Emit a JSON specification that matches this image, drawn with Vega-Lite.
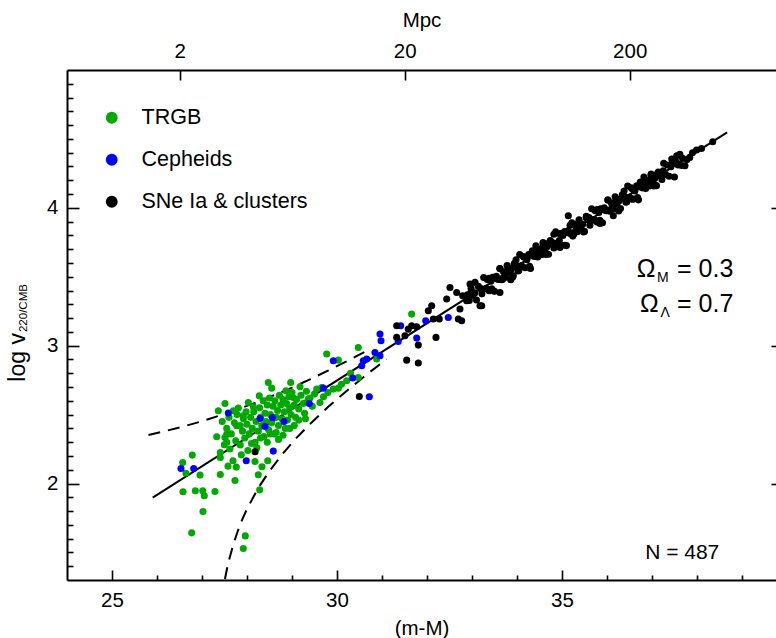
{
"$schema":"https://vega.github.io/schema/vega-lite/v6.json",
"width":709,"height":510,
"autosize":{"type":"none"},
"padding":{"left":67,"top":70,"right":0,"bottom":58},
"config":{"font":"Liberation Sans","view":{"stroke":null},
 "axis":{"grid":false,"domainColor":"black","tickColor":"black","labelColor":"black","titleColor":"black","labelFontSize":20.5,"titleFontSize":20.5,"titleFontWeight":"normal","domainWidth":2,"tickWidth":1.6,"labelFont":"Liberation Sans","titleFont":"Liberation Sans"},
 "text":{"font":"Liberation Sans","color":"black"}},
"datasets":{
"one":[{"k":1}],
"fit":[{"m":25.905,"v":1.898},{"m":38.67,"v":4.547}],
"up":[{"m":25.81,"v":2.352},{"m":26.2,"v":2.382},{"m":26.6,"v":2.415},{"m":27.0,"v":2.452},{"m":27.4,"v":2.494},{"m":27.8,"v":2.539},{"m":28.2,"v":2.588},{"m":28.6,"v":2.640},{"m":29.0,"v":2.696},{"m":29.4,"v":2.756},{"m":29.8,"v":2.819},{"m":30.2,"v":2.884},{"m":30.5,"v":2.935},{"m":30.75,"v":2.978}],
"lo":[{"m":27.51,"v":1.307},{"m":27.55,"v":1.373},{"m":27.6,"v":1.444},{"m":27.7,"v":1.563},{"m":27.8,"v":1.659},{"m":27.9,"v":1.743},{"m":28.0,"v":1.815},{"m":28.25,"v":1.967},{"m":28.5,"v":2.091},{"m":28.8,"v":2.219},{"m":29.1,"v":2.331},{"m":29.4,"v":2.432},{"m":29.8,"v":2.555},{"m":30.2,"v":2.668},{"m":30.6,"v":2.775},{"m":31.1,"v":2.902}],
"pts":[
{"m":26.571,"v":2.152,"g":"T"},{"m":26.784,"v":2.206,"g":"T"},{"m":26.644,"v":2.075,"g":"T"},{"m":26.956,"v":2.061,"g":"T"},{"m":26.578,"v":1.94,"g":"T"},{"m":26.851,"v":1.947,"g":"T"},{"m":27.016,"v":1.947,"g":"T"},{"m":27.051,"v":1.911,"g":"T"},{"m":27.289,"v":1.942,"g":"T"},{"m":27.022,"v":1.797,"g":"T"},{"m":26.771,"v":1.642,"g":"T"},{"m":27.407,"v":2.065,"g":"T"},{"m":27.407,"v":2.189,"g":"T"},{"m":27.407,"v":2.225,"g":"T"},{"m":27.578,"v":2.126,"g":"T"},{"m":27.689,"v":2.165,"g":"T"},{"m":27.762,"v":2.119,"g":"T"},{"m":27.733,"v":2.022,"g":"T"},{"m":27.873,"v":2.208,"g":"T"},{"m":27.496,"v":2.281,"g":"T"},{"m":27.962,"v":1.62,"g":"T"},{"m":27.918,"v":1.528,"g":"T"},{"m":28.178,"v":2.16,"g":"T"},{"m":28.333,"v":2.121,"g":"T"},{"m":28.251,"v":2.063,"g":"T"},{"m":28.282,"v":1.954,"g":"T"},{"m":28.46,"v":2.165,"g":"T"},
{"m":28.473,"v":2.733,"g":"T"},{"m":28.549,"v":2.692,"g":"T"},{"m":28.971,"v":2.733,"g":"T"},{"m":29.178,"v":2.702,"g":"T"},{"m":28.867,"v":2.673,"g":"T"},{"m":28.273,"v":2.636,"g":"T"},{"m":28.029,"v":2.588,"g":"T"},{"m":28.14,"v":2.557,"g":"T"},{"m":27.511,"v":2.581,"g":"T"},{"m":27.362,"v":2.528,"g":"T"},{"m":27.807,"v":2.547,"g":"T"},{"m":27.696,"v":2.528,"g":"T"},{"m":27.918,"v":2.491,"g":"T"},{"m":27.771,"v":2.419,"g":"T"},{"m":27.549,"v":2.358,"g":"T"},{"m":27.327,"v":2.339,"g":"T"},{"m":27.511,"v":2.334,"g":"T"},
{"m":31.659,"v":3.229,"g":"T"},{"m":30.473,"v":2.987,"g":"T"},{"m":29.771,"v":2.939,"g":"T"},{"m":30.029,"v":2.895,"g":"T"},{"m":30.882,"v":2.903,"g":"T"},{"m":30.473,"v":2.769,"g":"T"},{"m":30.215,"v":2.745,"g":"T"},{"m":29.549,"v":2.685,"g":"T"},{"m":29.918,"v":2.685,"g":"T"},{"m":30.029,"v":2.692,"g":"T"},{"m":29.66,"v":2.697,"g":"T"},{"m":29.622,"v":2.588,"g":"T"},{"m":29.362,"v":2.612,"g":"T"},{"m":29.029,"v":2.624,"g":"T"},
{"m":27.45,"v":2.45,"g":"T"},{"m":27.55,"v":2.40,"g":"T"},{"m":27.6,"v":2.48,"g":"T"},{"m":27.65,"v":2.36,"g":"T"},{"m":27.72,"v":2.44,"g":"T"},{"m":27.78,"v":2.50,"g":"T"},{"m":27.85,"v":2.42,"g":"T"},{"m":27.9,"v":2.38,"g":"T"},{"m":27.92,"v":2.47,"g":"T"},{"m":27.98,"v":2.52,"g":"T"},{"m":28.0,"v":2.43,"g":"T"},{"m":28.05,"v":2.36,"g":"T"},{"m":28.08,"v":2.48,"g":"T"},{"m":28.12,"v":2.40,"g":"T"},{"m":28.15,"v":2.52,"g":"T"},{"m":28.18,"v":2.30,"g":"T"},{"m":28.2,"v":2.45,"g":"T"},{"m":28.25,"v":2.38,"g":"T"},{"m":28.28,"v":2.55,"g":"T"},{"m":28.3,"v":2.48,"g":"T"},{"m":28.33,"v":2.42,"g":"T"},{"m":28.36,"v":2.60,"g":"T"},{"m":28.38,"v":2.34,"g":"T"},{"m":28.4,"v":2.51,"g":"T"},{"m":28.42,"v":2.45,"g":"T"},{"m":28.45,"v":2.57,"g":"T"},{"m":28.48,"v":2.39,"g":"T"},{"m":28.5,"v":2.62,"g":"T"},{"m":28.52,"v":2.50,"g":"T"},{"m":28.55,"v":2.44,"g":"T"},{"m":28.58,"v":2.56,"g":"T"},{"m":28.6,"v":2.36,"g":"T"},{"m":28.62,"v":2.60,"g":"T"},{"m":28.65,"v":2.48,"g":"T"},{"m":28.68,"v":2.53,"g":"T"},{"m":28.7,"v":2.42,"g":"T"},{"m":28.72,"v":2.64,"g":"T"},{"m":28.75,"v":2.57,"g":"T"},{"m":28.78,"v":2.47,"g":"T"},{"m":28.8,"v":2.61,"g":"T"},{"m":28.83,"v":2.52,"g":"T"},{"m":28.85,"v":2.40,"g":"T"},{"m":28.88,"v":2.58,"g":"T"},{"m":28.9,"v":2.46,"g":"T"},{"m":28.93,"v":2.63,"g":"T"},{"m":28.95,"v":2.55,"g":"T"},{"m":28.98,"v":2.50,"g":"T"},{"m":29.0,"v":2.66,"g":"T"},{"m":29.05,"v":2.57,"g":"T"},{"m":29.08,"v":2.48,"g":"T"},{"m":29.1,"v":2.61,"g":"T"},{"m":29.15,"v":2.54,"g":"T"},{"m":29.2,"v":2.64,"g":"T"},{"m":29.25,"v":2.58,"g":"T"},{"m":29.28,"v":2.51,"g":"T"},{"m":29.32,"v":2.67,"g":"T"},{"m":29.4,"v":2.62,"g":"T"},{"m":29.45,"v":2.56,"g":"T"},{"m":29.5,"v":2.65,"g":"T"},{"m":29.7,"v":2.63,"g":"T"},{"m":29.8,"v":2.66,"g":"T"},{"m":30.1,"v":2.72,"g":"T"},{"m":30.3,"v":2.80,"g":"T"},
{"m":27.55,"v":2.30,"g":"T"},{"m":27.62,"v":2.25,"g":"T"},{"m":27.75,"v":2.31,"g":"T"},{"m":27.85,"v":2.28,"g":"T"},{"m":27.95,"v":2.33,"g":"T"},{"m":28.02,"v":2.24,"g":"T"},{"m":28.1,"v":2.29,"g":"T"},{"m":28.22,"v":2.26,"g":"T"},{"m":28.3,"v":2.33,"g":"T"},{"m":28.45,"v":2.30,"g":"T"},{"m":28.52,"v":2.36,"g":"T"},{"m":28.65,"v":2.37,"g":"T"},{"m":28.7,"v":2.32,"g":"T"},{"m":28.8,"v":2.35,"g":"T"},{"m":28.95,"v":2.40,"g":"T"},{"m":29.05,"v":2.42,"g":"T"},{"m":29.15,"v":2.46,"g":"T"},{"m":29.3,"v":2.47,"g":"T"},
{"m":26.533,"v":2.109,"g":"C"},{"m":26.816,"v":2.109,"g":"C"},{"m":27.984,"v":2.165,"g":"C"},{"m":28.584,"v":2.235,"g":"C"},{"m":27.585,"v":2.511,"g":"C"},{"m":28.289,"v":2.472,"g":"C"},{"m":28.562,"v":2.479,"g":"C"},{"m":28.822,"v":2.45,"g":"C"},{"m":28.4,"v":2.414,"g":"C"},{"m":29.384,"v":2.581,"g":"C"},{"m":29.918,"v":2.89,"g":"C"},{"m":29.696,"v":2.692,"g":"C"},{"m":30.349,"v":2.765,"g":"C"},{"m":30.549,"v":2.854,"g":"C"},{"m":30.584,"v":2.89,"g":"C"},{"m":30.66,"v":2.903,"g":"C"},{"m":30.844,"v":2.951,"g":"C"},{"m":30.956,"v":2.927,"g":"C"},{"m":30.956,"v":3.084,"g":"C"},{"m":30.978,"v":3.036,"g":"C"},{"m":31.362,"v":3.031,"g":"C"},{"m":31.416,"v":3.144,"g":"C"},{"m":31.771,"v":3.055,"g":"C"},{"m":31.971,"v":3.181,"g":"C"},{"m":32.473,"v":3.205,"g":"C"},{"m":30.718,"v":2.629,"g":"C"},
{"m":28.18,"v":2.23,"g":"S"},{"m":30.496,"v":2.631,"g":"S"},{"m":31.549,"v":2.895,"g":"S"},{"m":31.807,"v":2.874,"g":"S"},{"m":31.807,"v":3.004,"g":"S"},{"m":32.2,"v":3.06,"g":"S"},{"m":31.327,"v":3.144,"g":"S"},{"m":31.584,"v":3.12,"g":"S"},{"m":31.66,"v":3.144,"g":"S"},{"m":31.77,"v":3.137,"g":"S"},{"m":31.327,"v":3.06,"g":"S"},{"m":31.511,"v":3.072,"g":"S"},{"m":32.029,"v":3.253,"g":"S"},{"m":32.104,"v":3.29,"g":"S"},{"m":32.141,"v":3.193,"g":"S"},{"m":32.273,"v":3.193,"g":"S"},{"m":32.438,"v":3.338,"g":"S"},{"m":32.511,"v":3.422,"g":"S"},{"m":32.66,"v":3.386,"g":"S"},{"m":32.733,"v":3.266,"g":"S"},{"m":32.696,"v":3.193,"g":"S"},{"m":32.771,"v":3.181,"g":"S"},{"m":32.793,"v":3.362,"g":"S"},{"m":32.882,"v":3.326,"g":"S"},{"m":32.956,"v":3.447,"g":"S"},{"m":33.067,"v":3.459,"g":"S"},{"m":32.98,"v":3.39,"g":"S"},{"m":33.178,"v":3.29,"g":"S"},{"m":33.216,"v":3.29,"g":"S"},{"m":33.622,"v":3.386,"g":"S"},{"m":33.918,"v":3.507,"g":"S"},{"m":34.956,"v":3.713,"g":"S"},{"m":35.844,"v":3.887,"g":"S"},{"m":36.14,"v":3.943,"g":"S"},{"m":36.549,"v":4.064,"g":"S"},{"m":35.14,"v":3.943,"g":"S"},
{"m":32.9,"v":3.370,"g":"S"},{"m":32.94,"v":3.328,"g":"S"},{"m":32.98,"v":3.416,"g":"S"},{"m":33.02,"v":3.365,"g":"S"},{"m":33.06,"v":3.383,"g":"S"},{"m":33.1,"v":3.331,"g":"S"},{"m":33.14,"v":3.430,"g":"S"},{"m":33.18,"v":3.418,"g":"S"},{"m":33.22,"v":3.376,"g":"S"},{"m":33.26,"v":3.495,"g":"S"},{"m":33.3,"v":3.413,"g":"S"},{"m":33.34,"v":3.481,"g":"S"},{"m":33.38,"v":3.399,"g":"S"},{"m":33.42,"v":3.468,"g":"S"},{"m":33.46,"v":3.496,"g":"S"},{"m":33.5,"v":3.394,"g":"S"},{"m":33.54,"v":3.503,"g":"S"},{"m":33.58,"v":3.481,"g":"S"},{"m":33.62,"v":3.559,"g":"S"},{"m":33.66,"v":3.478,"g":"S"},{"m":33.7,"v":3.536,"g":"S"},{"m":33.74,"v":3.494,"g":"S"},{"m":33.78,"v":3.582,"g":"S"},{"m":33.82,"v":3.531,"g":"S"},{"m":33.86,"v":3.549,"g":"S"},{"m":33.9,"v":3.497,"g":"S"},{"m":33.94,"v":3.596,"g":"S"},{"m":33.98,"v":3.584,"g":"S"},{"m":34.02,"v":3.542,"g":"S"},{"m":34.06,"v":3.661,"g":"S"},{"m":34.1,"v":3.579,"g":"S"},{"m":34.14,"v":3.647,"g":"S"},{"m":34.18,"v":3.565,"g":"S"},{"m":34.22,"v":3.634,"g":"S"},{"m":34.26,"v":3.662,"g":"S"},{"m":34.3,"v":3.560,"g":"S"},{"m":34.34,"v":3.669,"g":"S"},{"m":34.38,"v":3.647,"g":"S"},{"m":34.42,"v":3.725,"g":"S"},{"m":34.46,"v":3.644,"g":"S"},{"m":34.5,"v":3.702,"g":"S"},{"m":34.54,"v":3.660,"g":"S"},{"m":34.58,"v":3.748,"g":"S"},{"m":34.62,"v":3.697,"g":"S"},{"m":34.66,"v":3.715,"g":"S"},{"m":34.7,"v":3.663,"g":"S"},{"m":34.74,"v":3.762,"g":"S"},{"m":34.78,"v":3.750,"g":"S"},{"m":34.82,"v":3.708,"g":"S"},{"m":34.86,"v":3.827,"g":"S"},{"m":34.9,"v":3.745,"g":"S"},{"m":34.94,"v":3.813,"g":"S"},{"m":34.98,"v":3.731,"g":"S"},{"m":35.02,"v":3.800,"g":"S"},{"m":35.06,"v":3.828,"g":"S"},{"m":35.1,"v":3.726,"g":"S"},{"m":35.14,"v":3.835,"g":"S"},{"m":35.18,"v":3.813,"g":"S"},{"m":35.22,"v":3.891,"g":"S"},{"m":35.26,"v":3.809,"g":"S"},{"m":35.3,"v":3.868,"g":"S"},{"m":35.34,"v":3.826,"g":"S"},{"m":35.38,"v":3.914,"g":"S"},{"m":35.42,"v":3.863,"g":"S"},{"m":35.46,"v":3.881,"g":"S"},{"m":35.5,"v":3.829,"g":"S"},{"m":35.54,"v":3.928,"g":"S"},{"m":35.58,"v":3.916,"g":"S"},{"m":35.62,"v":3.874,"g":"S"},{"m":35.66,"v":3.993,"g":"S"},{"m":35.7,"v":3.911,"g":"S"},{"m":35.74,"v":3.979,"g":"S"},{"m":35.78,"v":3.897,"g":"S"},{"m":35.82,"v":3.966,"g":"S"},{"m":35.86,"v":3.994,"g":"S"},{"m":35.9,"v":3.892,"g":"S"},{"m":35.94,"v":4.001,"g":"S"},{"m":35.98,"v":3.979,"g":"S"},{"m":36.02,"v":4.057,"g":"S"},{"m":36.06,"v":3.975,"g":"S"},{"m":36.1,"v":4.034,"g":"S"},{"m":36.14,"v":3.992,"g":"S"},{"m":36.18,"v":4.080,"g":"S"},{"m":36.22,"v":4.029,"g":"S"},{"m":36.26,"v":4.047,"g":"S"},{"m":36.3,"v":3.995,"g":"S"},{"m":36.34,"v":4.094,"g":"S"},{"m":36.38,"v":4.082,"g":"S"},{"m":36.42,"v":4.040,"g":"S"},{"m":36.46,"v":4.158,"g":"S"},{"m":36.5,"v":4.077,"g":"S"},{"m":36.54,"v":4.145,"g":"S"},{"m":36.58,"v":4.063,"g":"S"},{"m":36.62,"v":4.132,"g":"S"},{"m":36.66,"v":4.160,"g":"S"},{"m":36.7,"v":4.058,"g":"S"},{"m":36.74,"v":4.167,"g":"S"},{"m":36.78,"v":4.145,"g":"S"},{"m":36.82,"v":4.223,"g":"S"},{"m":36.86,"v":4.141,"g":"S"},{"m":36.9,"v":4.200,"g":"S"},{"m":36.94,"v":4.158,"g":"S"},{"m":36.98,"v":4.246,"g":"S"},{"m":37.02,"v":4.195,"g":"S"},{"m":37.06,"v":4.213,"g":"S"},{"m":37.1,"v":4.161,"g":"S"},{"m":37.14,"v":4.260,"g":"S"},{"m":37.18,"v":4.248,"g":"S"},{"m":37.22,"v":4.206,"g":"S"},{"m":37.26,"v":4.324,"g":"S"},{"m":37.3,"v":4.243,"g":"S"},{"m":37.34,"v":4.311,"g":"S"},{"m":37.38,"v":4.229,"g":"S"},{"m":37.42,"v":4.298,"g":"S"},{"m":37.46,"v":4.326,"g":"S"},{"m":37.5,"v":4.224,"g":"S"},{"m":37.54,"v":4.333,"g":"S"},{"m":37.58,"v":4.311,"g":"S"},{"m":37.62,"v":4.389,"g":"S"},{"m":37.66,"v":4.307,"g":"S"},
{"m":33.32,"v":3.417,"g":"S"},{"m":33.38,"v":3.489,"g":"S"},{"m":33.44,"v":3.412,"g":"S"},{"m":33.5,"v":3.494,"g":"S"},{"m":33.56,"v":3.487,"g":"S"},{"m":33.62,"v":3.559,"g":"S"},{"m":33.68,"v":3.482,"g":"S"},{"m":33.74,"v":3.514,"g":"S"},{"m":33.8,"v":3.567,"g":"S"},{"m":33.86,"v":3.479,"g":"S"},{"m":33.92,"v":3.571,"g":"S"},{"m":33.98,"v":3.624,"g":"S"},{"m":34.04,"v":3.546,"g":"S"},{"m":34.1,"v":3.579,"g":"S"},{"m":34.16,"v":3.641,"g":"S"},{"m":34.22,"v":3.624,"g":"S"},{"m":34.28,"v":3.576,"g":"S"},{"m":34.34,"v":3.689,"g":"S"},{"m":34.4,"v":3.681,"g":"S"},{"m":34.46,"v":3.664,"g":"S"},{"m":34.52,"v":3.666,"g":"S"},{"m":34.58,"v":3.738,"g":"S"},{"m":34.64,"v":3.661,"g":"S"},{"m":34.7,"v":3.743,"g":"S"},{"m":34.76,"v":3.736,"g":"S"},{"m":34.82,"v":3.808,"g":"S"},{"m":34.88,"v":3.731,"g":"S"},{"m":34.94,"v":3.763,"g":"S"},{"m":35.0,"v":3.816,"g":"S"},{"m":35.06,"v":3.728,"g":"S"},{"m":35.12,"v":3.821,"g":"S"},{"m":35.18,"v":3.873,"g":"S"},{"m":35.24,"v":3.795,"g":"S"},{"m":35.3,"v":3.828,"g":"S"},{"m":35.36,"v":3.890,"g":"S"},{"m":35.42,"v":3.873,"g":"S"},{"m":35.48,"v":3.825,"g":"S"},{"m":35.54,"v":3.938,"g":"S"},{"m":35.6,"v":3.930,"g":"S"},{"m":35.66,"v":3.913,"g":"S"},{"m":35.72,"v":3.915,"g":"S"},{"m":35.78,"v":3.987,"g":"S"},{"m":35.84,"v":3.910,"g":"S"},{"m":35.9,"v":3.992,"g":"S"},{"m":35.96,"v":3.985,"g":"S"},{"m":36.02,"v":4.057,"g":"S"},{"m":36.08,"v":3.980,"g":"S"},{"m":36.14,"v":4.012,"g":"S"},{"m":36.2,"v":4.065,"g":"S"},{"m":36.26,"v":3.977,"g":"S"},{"m":36.32,"v":4.069,"g":"S"},{"m":36.38,"v":4.122,"g":"S"},{"m":36.44,"v":4.044,"g":"S"},{"m":36.5,"v":4.077,"g":"S"},{"m":36.56,"v":4.139,"g":"S"},{"m":36.62,"v":4.122,"g":"S"},{"m":36.68,"v":4.074,"g":"S"},{"m":36.74,"v":4.187,"g":"S"},{"m":36.8,"v":4.179,"g":"S"},{"m":36.86,"v":4.161,"g":"S"},{"m":36.92,"v":4.164,"g":"S"},{"m":36.98,"v":4.236,"g":"S"},{"m":37.04,"v":4.159,"g":"S"},{"m":37.1,"v":4.241,"g":"S"},{"m":37.16,"v":4.234,"g":"S"},
{"m":37.733,"v":4.305,"g":"S"},{"m":37.84,"v":4.366,"g":"S"},{"m":37.99,"v":4.419,"g":"S"},{"m":38.35,"v":4.479,"g":"S"},{"m":37.55,"v":4.378,"g":"S"},{"m":37.44,"v":4.354,"g":"S"},{"m":37.9,"v":4.40,"g":"S"},{"m":37.78,"v":4.35,"g":"S"},{"m":38.1,"v":4.43,"g":"S"},{"m":37.68,"v":4.36,"g":"S"},{"m":37.25,"v":4.269,"g":"S"},{"m":37.07,"v":4.233,"g":"S"}
]},
"layer":[
{"data":{"name":"fit"},"mark":{"type":"line","color":"black","strokeWidth":2},
 "encoding":{
  "x":{"field":"m","type":"quantitative","scale":{"domain":[24,39.756],"nice":false,"zero":false},
   "axis":{"orient":"bottom","values":[25,26,27,28,29,30,31,32,33,34,35,36,37,38,39],"labelExpr":"datum.value % 5 == 0 ? datum.label : ''","tickSize":{"condition":{"test":"datum.value % 5 == 0","value":-10},"value":-5},"labelPadding":20,"title":"(m-M)","titlePadding":8}},
  "y":{"field":"v","type":"quantitative","scale":{"domain":[1.3,5.0],"nice":false,"zero":false},
   "axis":{"orient":"left","values":[1.4,1.5,1.6,1.7,1.8,1.9,2,2.1,2.2,2.3,2.4,2.5,2.6,2.7,2.8,2.9,3,3.1,3.2,3.3,3.4,3.5,3.6,3.7,3.8,3.9,4,4.1,4.2,4.3,4.4,4.5,4.6,4.7,4.8,4.9],"labelExpr":"datum.value % 1 == 0 ? format(datum.value,'d') : ''","tickSize":{"condition":{"test":"datum.value % 1 == 0","value":-12},"value":-6},"labelPadding":21,"title":null}}}},
{"data":{"name":"up"},"mark":{"type":"line","color":"black","strokeWidth":2,"strokeDash":[12,8]},
 "encoding":{"x":{"field":"m","type":"quantitative","axis":null},"y":{"field":"v","type":"quantitative","axis":null}}},
{"data":{"name":"lo"},"mark":{"type":"line","color":"black","strokeWidth":2,"strokeDash":[12,8]},
 "encoding":{"x":{"field":"m","type":"quantitative","axis":null},"y":{"field":"v","type":"quantitative","axis":null}}},
{"data":{"name":"pts"},"mark":{"type":"circle","size":50,"opacity":1},
 "encoding":{
  "x":{"field":"m","type":"quantitative",
   "axis":{"orient":"top","values":[26.5051,31.5051,36.5051],"labelExpr":"format(round(pow(10, datum.value/5+1)/1000000),'d')","tickSize":-10,"labelPadding":19,"title":"Mpc","titlePadding":11}},
  "y":{"field":"v","type":"quantitative",
   "axis":{"orient":"right","values":[2,3,4],"labels":false,"domain":false,"tickSize":-5,"title":null}},
  "color":{"field":"g","type":"nominal","scale":{"domain":["T","C","S"],"range":["#00a800","#0000ff","#000000"]},
   "legend":{"orient":"none","legendX":34,"legendY":37,"title":null,"labelExpr":"datum.value == 'T' ? 'TRGB' : datum.value == 'C' ? 'Cepheids' : 'SNe Ia & clusters'","symbolType":"circle","symbolSize":140,"symbolStrokeWidth":0,"labelFontSize":21.5,"labelFont":"Liberation Sans","labelColor":"black","labelLimit":400,"rowPadding":19,"labelOffset":19,"padding":0}}}},
{"data":{"name":"one"},"mark":{"type":"text","text":"log v","fontSize":23,"angle":270,"align":"left","baseline":"alphabetic"},
 "encoding":{"x":{"datum":23.056,"type":"quantitative","axis":null},"y":{"datum":2.739,"type":"quantitative","axis":null}}},
{"data":{"name":"one"},"mark":{"type":"text","text":"220/CMB","fontSize":11.5,"angle":270,"align":"left","baseline":"alphabetic"},
 "encoding":{"x":{"datum":23.1,"type":"quantitative","axis":null},"y":{"datum":3.099,"type":"quantitative","axis":null}}},
{"data":{"name":"one"},"mark":{"type":"text","text":"Ω","fontSize":25,"align":"left","baseline":"alphabetic"},
 "encoding":{"x":{"datum":36.66,"type":"quantitative","axis":null},"y":{"datum":3.498,"type":"quantitative","axis":null}}},
{"data":{"name":"one"},"mark":{"type":"text","text":"M","fontSize":14,"align":"left","baseline":"alphabetic"},
 "encoding":{"x":{"datum":37.111,"type":"quantitative","axis":null},"y":{"datum":3.462,"type":"quantitative","axis":null}}},
{"data":{"name":"one"},"mark":{"type":"text","text":"= 0.3","fontSize":25,"align":"right","baseline":"alphabetic"},
 "encoding":{"x":{"datum":38.807,"type":"quantitative","axis":null},"y":{"datum":3.498,"type":"quantitative","axis":null}}},
{"data":{"name":"one"},"mark":{"type":"text","text":"Ω","fontSize":25,"align":"left","baseline":"alphabetic"},
 "encoding":{"x":{"datum":36.733,"type":"quantitative","axis":null},"y":{"datum":3.244,"type":"quantitative","axis":null}}},
{"data":{"name":"one"},"mark":{"type":"text","text":"Λ","fontSize":14,"align":"left","baseline":"alphabetic"},
 "encoding":{"x":{"datum":37.19,"type":"quantitative","axis":null},"y":{"datum":3.208,"type":"quantitative","axis":null}}},
{"data":{"name":"one"},"mark":{"type":"text","text":"= 0.7","fontSize":25,"align":"right","baseline":"alphabetic"},
 "encoding":{"x":{"datum":38.807,"type":"quantitative","axis":null},"y":{"datum":3.244,"type":"quantitative","axis":null}}},
{"data":{"name":"one"},"mark":{"type":"text","text":"N = 487","fontSize":21,"align":"right","baseline":"alphabetic"},
 "encoding":{"x":{"datum":38.496,"type":"quantitative","axis":null},"y":{"datum":1.45,"type":"quantitative","axis":null}}}
],
"resolve":{"axis":{"x":"independent","y":"independent"}}
}
